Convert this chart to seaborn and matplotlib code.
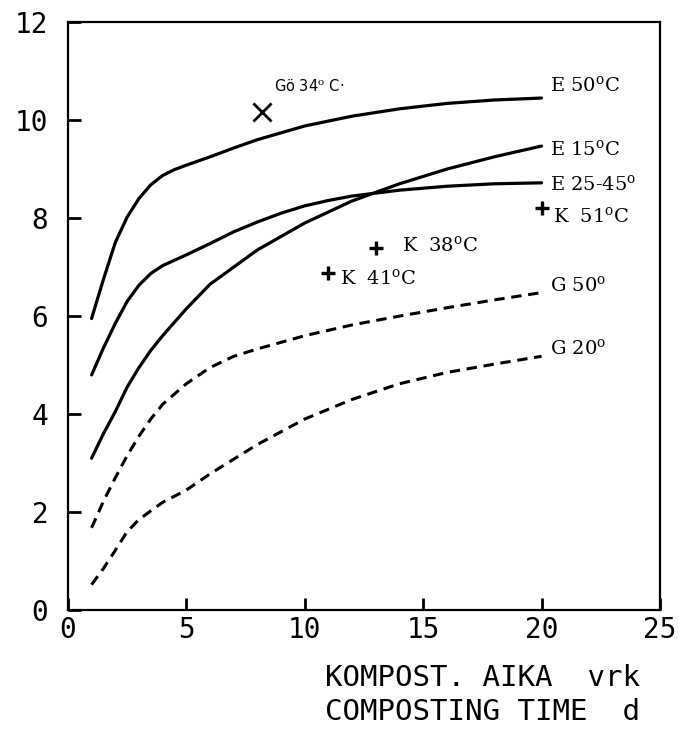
import matplotlib
matplotlib.use("Agg")
import matplotlib.pyplot as plt
import numpy as np
import pandas as pd
import seaborn as sns

# curves (x = composting time, d)
E50_X = [1, 1.5, 2, 2.5, 3, 3.5, 4, 4.5, 5, 6, 7, 8, 10, 12, 14, 16, 18, 20]
E50_Y = [5.95, 6.75, 7.5, 8.02, 8.4, 8.68, 8.87, 8.99, 9.08, 9.25, 9.43, 9.6, 9.88, 10.08, 10.23, 10.34, 10.41, 10.45]

E2545_X = [1, 1.5, 2, 2.5, 3, 3.5, 4, 5, 6, 7, 8, 9, 10, 11, 12, 14, 16, 18, 20]
E2545_Y = [4.8, 5.35, 5.85, 6.3, 6.63, 6.87, 7.03, 7.25, 7.48, 7.72, 7.92, 8.1, 8.25, 8.36, 8.45, 8.57, 8.65, 8.7, 8.72]

E15_X = [1, 1.5, 2, 2.5, 3, 3.5, 4, 5, 6, 7, 8, 10, 12, 14, 16, 18, 20]
E15_Y = [3.1, 3.6, 4.05, 4.55, 4.95, 5.3, 5.6, 6.15, 6.65, 7.0, 7.35, 7.9, 8.35, 8.7, 9.0, 9.25, 9.47]

G50_X = [1, 1.5, 2, 2.5, 3, 3.5, 4, 5, 6, 7, 8, 10, 12, 14, 16, 18, 20]
G50_Y = [1.68, 2.22, 2.7, 3.15, 3.55, 3.9, 4.2, 4.62, 4.95, 5.18, 5.33, 5.6, 5.82, 6.0, 6.17, 6.33, 6.48]

G20_X = [1, 1.5, 2, 2.5, 3, 4, 5, 6, 7, 8, 10, 12, 14, 16, 18, 20]
G20_Y = [0.52, 0.85, 1.22, 1.6, 1.85, 2.2, 2.45, 2.78, 3.08, 3.38, 3.9, 4.3, 4.62, 4.85, 5.02, 5.18]

# single observations
GO_X, GO_Y = [8.2], [10.17]
K_X = [20.0, 13.0, 11.0]
K_Y = [8.2, 7.38, 6.88]

SOLID = [("E 50", E50_X, E50_Y), ("E 25-45", E2545_X, E2545_Y), ("E 15", E15_X, E15_Y)]
DASHED = [("G 50", G50_X, G50_Y), ("G 20", G20_X, G20_Y)]

DEG = r"$^{\mathrm{o}}$"
LABELS = [
    (20.35, 10.6, f"E 50{DEG}C"),
    (20.35, 9.28, f"E 15{DEG}C"),
    (20.35, 8.58, f"E 25-45{DEG}"),
    (20.5, 7.93, f"K  51{DEG}C"),
    (14.1, 7.33, f"K  38{DEG}C"),
    (11.5, 6.65, f"K  41{DEG}C"),
    (20.35, 6.52, f"G 50{DEG}"),
    (20.35, 5.22, f"G 20{DEG}"),
]

X_TICKS = [0, 5, 10, 15, 20, 25]
Y_TICKS = [0, 2, 4, 6, 8, 10, 12]


def main() -> None:
    sns.set_theme(style="ticks")
    plt.rcParams.update({
        "mathtext.fontset": "dejavuserif",
        "text.color": "black",
        "xtick.direction": "in",
        "ytick.direction": "in",
    })

    fig = plt.figure(figsize=(6.79, 7.36), dpi=100)
    ax = fig.add_axes([0.1, 0.171, 0.872, 0.799])

    for name, xs, ys in SOLID:
        df = pd.DataFrame({"x": xs, "y": ys})
        sns.lineplot(data=df, x="x", y="y", ax=ax, color="black", lw=2.3,
                     estimator=None, sort=False)
    for name, xs, ys in DASHED:
        df = pd.DataFrame({"x": xs, "y": ys})
        sns.lineplot(data=df, x="x", y="y", ax=ax, color="black", lw=2.2,
                     estimator=None, sort=False, dashes=False, linestyle=(0, (3.4, 2.2)))

    sns.scatterplot(x=GO_X, y=GO_Y, ax=ax, marker="x", s=170, color="black", linewidth=2)
    sns.scatterplot(x=K_X, y=K_Y, ax=ax, marker="+", s=110, color="black", linewidth=2.4)

    ax.text(8.7, 10.6, "Gö 34$^{\\mathrm{o}}$ C·", fontsize=10.5, family="DejaVu Sans")
    for x, y, txt in LABELS:
        ax.text(x, y, txt, fontsize=14, family="DejaVu Serif")

    ax.set_xlim(0, 25)
    ax.set_ylim(0, 12)
    ax.set_xticks(X_TICKS)
    ax.set_yticks(Y_TICKS)
    ax.set_xticklabels([str(v) for v in X_TICKS], family="DejaVu Sans Mono", fontsize=20)
    ax.set_yticklabels([str(v) for v in Y_TICKS], family="DejaVu Sans Mono", fontsize=20)
    for spine in ax.spines.values():
        spine.set_visible(True)
        spine.set_linewidth(1.6)
        spine.set_color("black")

    ax.set_xlabel("")
    ax.set_ylabel("")
    fig.text(640 / 679, 1 - 695 / 736, "KOMPOST. AIKA  vrk\nCOMPOSTING TIME  d",
             ha="right", va="center", family="DejaVu Sans Mono", fontsize=21,
             linespacing=1.25, color="black")

    ax.tick_params(axis="both", which="major", direction="in", length=9, width=2,
                   color="black", labelcolor="black")
    ax.tick_params(axis="y", pad=14)
    ax.tick_params(axis="x", pad=4)

    fig.savefig("out.png", dpi=100, facecolor="white")


if __name__ == "__main__":
    main()
